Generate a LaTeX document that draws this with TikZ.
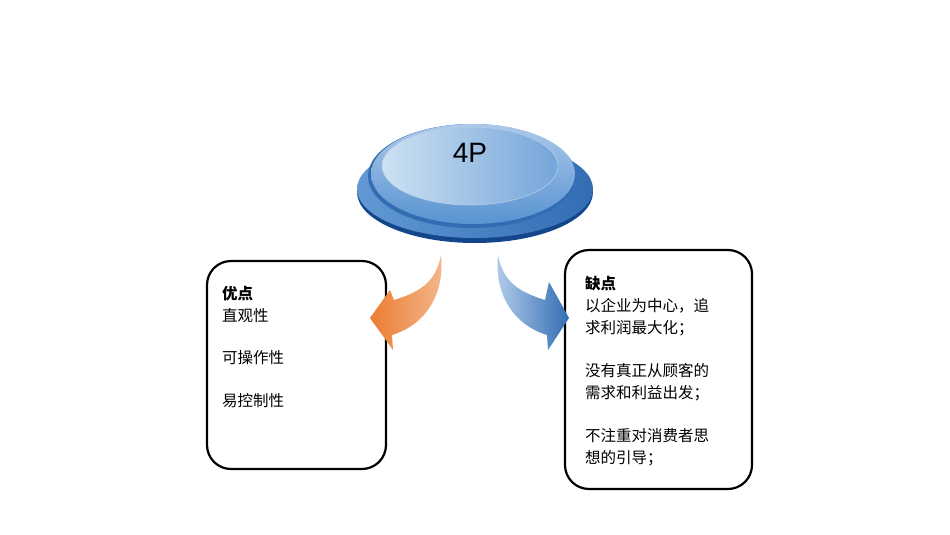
\documentclass[tikz,border=0pt]{standalone}
\usepackage{fontspec}
\setmainfont{Liberation Sans}
\newfontfamily\cjk{Noto Sans CJK SC}
\begin{document}
\begin{tikzpicture}[x=1pt,y=-1pt,
  card/.style={draw=black,line width=2.2pt,rounded corners=24pt,fill=white},
  txt/.style={anchor=west,font=\cjk\fontsize{15.5}{18}\selectfont,inner sep=0pt}]
\useasboundingbox (0,0) rectangle (950,535);
\definecolor{dblue}{RGB}{20,70,140}
\definecolor{mblue}{RGB}{70,135,205}
\definecolor{lblue}{RGB}{205,225,242}
\definecolor{org}{RGB}{235,125,50}
% disc
\fill[dblue] (475,192) ellipse (118 and 51);
\shade[left color=mblue!85!white,right color=mblue!60!dblue] (475,189) ellipse (118 and 49);
\fill[mblue!60!dblue] (472,176) ellipse (104 and 52);
\shade[top color=mblue!45!white,bottom color=mblue!90!white] (473,174) ellipse (102 and 50);
\shade[left color=lblue,right color=mblue!75!white] (470,166) ellipse (88 and 39);
\draw[white!60!mblue,line width=0.6pt] (470,166) ellipse (88 and 39);
\node[font=\fontsize{28}{32}\selectfont] (t) at (470,153) {4P};
% boxes
\draw[card] (207,261) rectangle (386,469);
\draw[card] (565,250) rectangle (752,489);
% arrows
\shade[left color=org,right color=org!55!white] (441,255) .. controls (436,282) and (420,292) .. (394,300) -- (390,290) -- (370,318) -- (393,350) -- (392,335) .. controls (425,325) and (445,295) .. (441,255) -- cycle;
\shade[left color=mblue!40!white,right color=dblue!40!mblue] (498,255) .. controls (503,282) and (519,292) .. (545,300) -- (549,282) -- (569,318) -- (548,350) -- (547,335) .. controls (514,325) and (494,295) .. (498,255) -- cycle;
% texts
\node[txt,font=\cjk\bfseries\fontsize{15.5}{18}\selectfont] (a0) at (222,294) {优点};
\node[txt] (a1) at (222,316) {直观性};
\node[txt] (a2) at (222,358) {可操作性};
\node[txt] (a3) at (222,401) {易控制性};
\node[txt,font=\cjk\bfseries\fontsize{15.5}{18}\selectfont] (b0) at (585,284) {缺点};
\node[txt] (b1) at (585,306) {以企业为中心，追};
\node[txt] (b2) at (585,328) {求利润最大化；};
\node[txt] (b3) at (585,371) {没有真正从顾客的};
\node[txt] (b4) at (585,393) {需求和利益出发；};
\node[txt] (b5) at (585,436) {不注重对消费者思};
\node[txt] (b6) at (585,458) {想的引导；};
\end{tikzpicture}
\end{document}
